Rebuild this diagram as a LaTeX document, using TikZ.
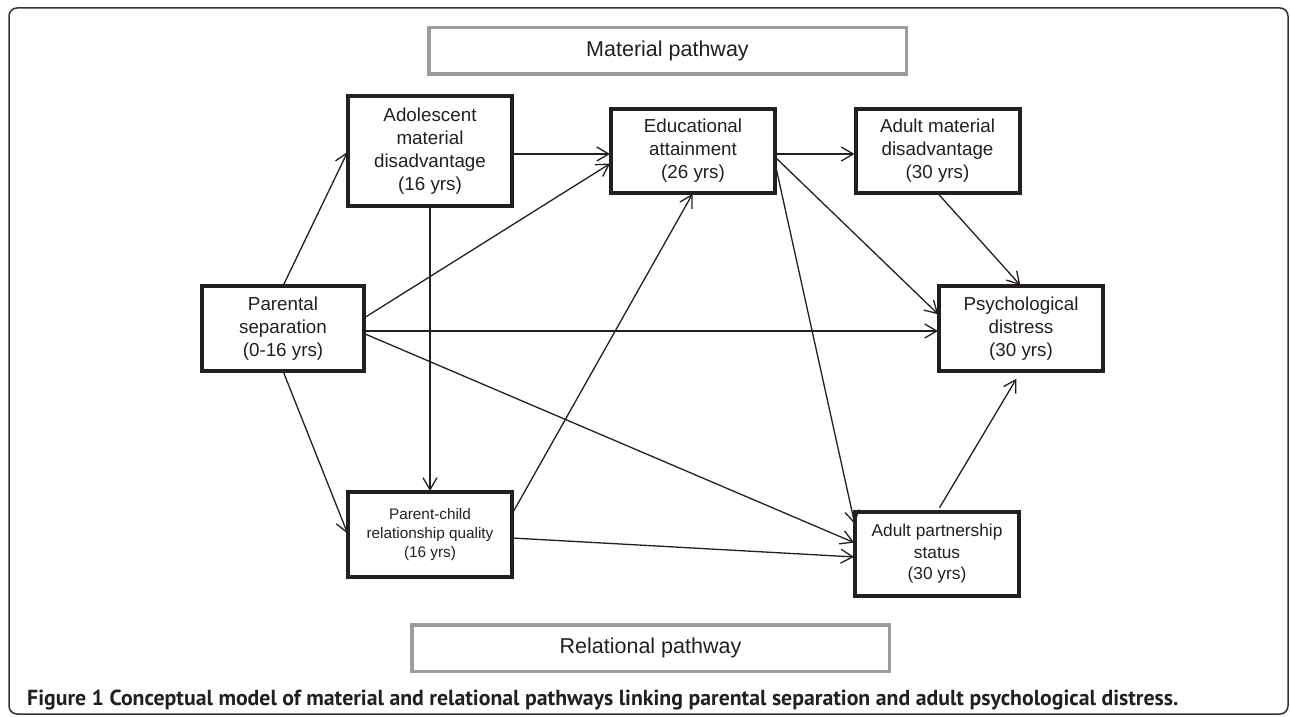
\documentclass[tikz,border=0pt]{standalone}
\usepackage{fontspec}
\usepackage{graphicx}
\setmainfont{Liberation Sans}
\newfontfamily\capfont{PT Sans}
\usetikzlibrary{arrows.meta,calc}
\definecolor{ink}{HTML}{231F20}
\definecolor{graybox}{HTML}{9C9C9C}
\definecolor{framec}{HTML}{333333}
\begin{document}
\begin{tikzpicture}[x=1pt,y=-1pt,
  box/.style={draw=ink, line width=4pt, inner sep=0pt, outer sep=0pt, align=center, text=ink,
    font=\fontsize{18.8}{23}\selectfont, minimum width=164pt},
  smallbox/.style={box, font=\fontsize{15.3}{19}\selectfont},
  midbox/.style={box, font=\fontsize{17.3}{21.5}\selectfont},
  pathbox/.style={draw=graybox, line width=3.5pt, inner sep=0pt, outer sep=0pt, text=ink,
    font=\fontsize{21.5}{25}\selectfont, minimum width=477.5pt, minimum height=46.5pt},
  conn/.style={draw=ink, line width=1.3pt, -{Straight Barb[length=12pt,width=14pt]}, shorten >=1pt}
]
\useasboundingbox (0,0) rectangle (1290,717);
\draw[framec, line width=1.5pt, rounded corners=8pt] (9,8) rectangle (1288,714);

\node[pathbox] (mat) at (667.5,51) {Material pathway};
\node[pathbox] (rel) at (650.5,648) {Relational pathway};

\node[box, minimum height=110pt] (adol) at (430,151) {Adolescent\\material\\disadvantage\\(16 yrs)};
\node[box, minimum height=84pt] (edu) at (693,151) {Educational\\attainment\\(26 yrs)};
\node[box, minimum height=84pt] (amat) at (937.5,151) {Adult material\\disadvantage\\(30 yrs)};
\node[box, minimum height=85pt] (psych) at (1021,328.5) {Psychological\\distress\\(30 yrs)};
\node[box, minimum height=85pt, minimum width=162pt] (par) at (283,328.5) {Parental\\separation\\(0-16 yrs)};
\node[smallbox, minimum height=85pt] (pc) at (430,534.5) {Parent-child\\relationship quality\\(16 yrs)};
\node[midbox, minimum height=84pt] (part) at (937,554) {Adult partnership\\status\\(30 yrs)};

\draw[conn] (par.north) -- (adol.west);
\draw[conn] ($(adol.east)+(0,3)$) -- ($(edu.west)+(0,3)$);
\draw[conn] ($(par.east)+(0,-10.5)$) -- ($(edu.west)+(0,12)$);
\draw[conn] ($(par.east)+(0,2.5)$) -- ($(psych.west)+(0,2.5)$);
\draw[conn] ($(par.east)+(0,5)$) -- ($(part.west)+(0,-11)$);
\draw[conn] (par.south) -- (pc.west);
\draw[conn] (adol.south) -- (pc.north);
\draw[conn] ($(pc.east)+(0,-20.5)$) -- (edu.south);
\draw[conn] ($(pc.east)+(0,3.5)$) -- ($(part.west)+(0,3)$);
\draw[conn] ($(edu.east)+(0,3)$) -- ($(amat.west)+(0,3)$);
\draw[conn] ($(edu.east)+(0,6)$) -- ($(psych.west)+(0,-13.5)$);
\draw[conn] ($(edu.east)+(0,12)$) -- ($(part.west)+(0,-29)$);
\draw[conn] (amat.south) -- (psych.north);
\draw[conn, shorten <=5pt, shorten >=9pt] (part.north) -- (psych.south);

\node[anchor=base west, inner sep=0pt, text=ink] (cap) at (27,705)
  {\resizebox{1151pt}{!}{\capfont\bfseries Figure 1 Conceptual model of material and relational pathways linking parental separation and adult psychological distress.}};
\end{tikzpicture}
\end{document}
